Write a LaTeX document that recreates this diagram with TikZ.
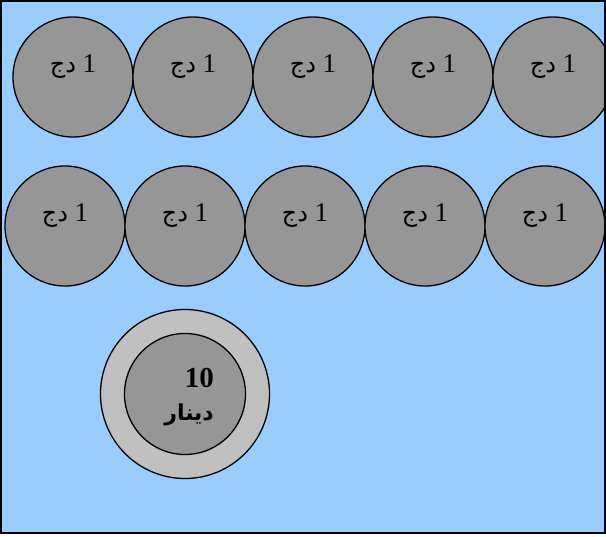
\documentclass[tikz,border=0pt]{standalone}
\usepackage{fontspec}
\setmainfont{Liberation Serif}
\newfontfamily\arabicfont[Script=Arabic]{DejaVu Sans}
\TeXXeTstate=1

\definecolor{skyblue}{HTML}{99CCFF}
\definecolor{coingray}{HTML}{969696}
\definecolor{ringgray}{HTML}{C0C0C0}

\newcommand{\onedj}{\beginR 1 {\arabicfont\fontsize{24}{28}\selectfont دج}\endR}

\begin{document}
\begin{tikzpicture}[
    x=1pt, y=-1pt,
    coin/.style={circle, draw, line width=1.3pt, fill=coingray, minimum size=120pt,
        inner sep=0pt, text height=20pt, text depth=29pt, font=\fontsize{27}{32}\selectfont},
    ring/.style={circle, draw, line width=1.3pt, fill=ringgray, minimum size=169pt, inner sep=0pt},
    value/.style={inner sep=0pt, align=right, font=\fontsize{29}{33}\selectfont\bfseries}
]
\useasboundingbox (0,0) rectangle (606,537);
\fill[skyblue] (1,1) rectangle (605,533);

\begin{scope}
\clip (1,1) rectangle (605,533);

% Top row of coins
\node[coin] (t1) at (73,77) {\onedj};
\node[coin] (t2) at (193,77) {\onedj};
\node[coin] (t3) at (313,77) {\onedj};
\node[coin] (t4) at (433,77) {\onedj};
\node[coin] (t5) at (553,77) {\onedj};

% Second row of coins
\node[coin] (b1) at (65,226) {\onedj};
\node[coin] (b2) at (185,226) {\onedj};
\node[coin] (b3) at (305,226) {\onedj};
\node[coin] (b4) at (425,226) {\onedj};
\node[coin] (b5) at (545,226) {\onedj};

% Big coin
\node[ring] (bigring) at (185,394) {};
\node[coin, minimum size=121pt] (bigcoin) at (185,394) {};
\node[value, anchor=east] (tenval) at (214,397)
    {10\\{\arabicfont\fontsize{22}{30}\selectfont\bfseries\beginR دينار\endR}};
\end{scope}

\draw[line width=2pt] (1,1) rectangle (605,533);
\end{tikzpicture}
\end{document}
